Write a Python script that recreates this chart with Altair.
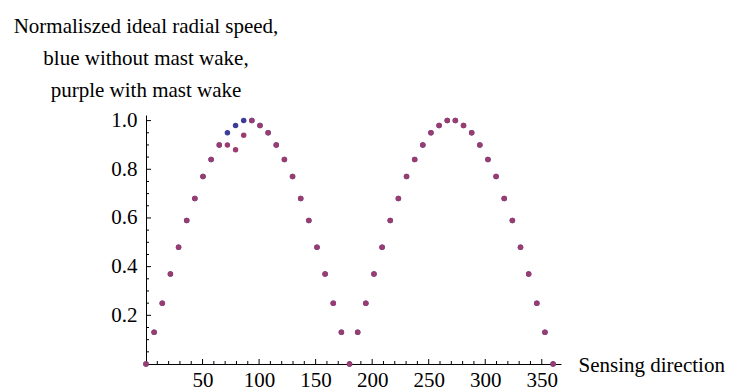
import altair as alt
import pandas as pd

# Sensing direction (degrees)
angles = [0, 7.2, 14.4, 21.6, 28.8, 36, 43.2, 50.4, 57.6, 64.8, 72, 79.2, 86.4, 93.6,
          100.8, 108, 115.2, 122.4, 129.6, 136.8, 144, 151.2, 158.4, 165.6, 172.8, 180,
          187.2, 194.4, 201.6, 208.8, 216, 223.2, 230.4, 237.6, 244.8, 252, 259.2, 266.4,
          273.6, 280.8, 288, 295.2, 302.4, 309.6, 316.8, 324, 331.2, 338.4, 345.6, 352.8, 360]

# Normalised ideal radial speed without mast wake (blue)
speed_no_wake = [0.00, 0.13, 0.25, 0.37, 0.48, 0.59, 0.68, 0.77, 0.84, 0.90, 0.95, 0.98, 1.00, 1.00,
                 0.98, 0.95, 0.90, 0.84, 0.77, 0.68, 0.59, 0.48, 0.37, 0.25, 0.13, 0.00,
                 0.13, 0.25, 0.37, 0.48, 0.59, 0.68, 0.77, 0.84, 0.90, 0.95, 0.98, 1.00,
                 1.00, 0.98, 0.95, 0.90, 0.84, 0.77, 0.68, 0.59, 0.48, 0.37, 0.25, 0.13, 0.00]

# Normalised ideal radial speed with mast wake (purple)
speed_with_wake = [0.00, 0.13, 0.25, 0.37, 0.48, 0.59, 0.68, 0.77, 0.84, 0.90, 0.90, 0.88, 0.94, 1.00,
                   0.98, 0.95, 0.90, 0.84, 0.77, 0.68, 0.59, 0.48, 0.37, 0.25, 0.13, 0.00,
                   0.13, 0.25, 0.37, 0.48, 0.59, 0.68, 0.77, 0.84, 0.90, 0.95, 0.98, 1.00,
                   1.00, 0.98, 0.95, 0.90, 0.84, 0.77, 0.68, 0.59, 0.48, 0.37, 0.25, 0.13, 0.00]

x_labels = [50, 100, 150, 200, 250, 300, 350]
x_minor = [10, 20, 30, 40, 60, 70, 80, 90, 110, 120, 130, 140, 160, 170, 180, 190, 210, 220,
           230, 240, 260, 270, 280, 290, 310, 320, 330, 340, 360]
y_labels = [0.2, 0.4, 0.6, 0.8, 1.0]
y_minor = [0.05, 0.1, 0.15, 0.25, 0.3, 0.35, 0.45, 0.5, 0.55, 0.65, 0.7, 0.75,
           0.85, 0.9, 0.95]

title_lines = ["Normaliszed ideal radial speed,", "blue without mast wake,", "purple with mast wake"]

FONT = "Liberation Serif"
W, H = 415, 249

df = pd.DataFrame({
    "angle": angles * 2,
    "speed": speed_no_wake + speed_with_wake,
    "series": ["blue"] * len(angles) + ["purple"] * len(angles),
})

xs = alt.Scale(domain=[0, 367], nice=False, zero=False)
ys = alt.Scale(domain=[0, 1.023], nice=False, zero=False)

x_axis = alt.Axis(values=x_labels, ticks=False, grid=False, domainColor="black",
                  domainWidth=1, labelFont=FONT, labelFontSize=21, labelColor="black",
                  labelPadding=5, title="Sensing direction", titleFont=FONT,
                  titleFontSize=21, titleFontWeight="normal", titleColor="black",
                  titleAnchor="start", titleAlign="left", titleBaseline="middle",
                  titleX=W + 17, titleY=1, titleAngle=0)
y_axis = alt.Axis(values=y_labels, format=".1f", ticks=False, grid=False,
                  domainColor="black", domainWidth=1, labelFont=FONT, labelFontSize=21,
                  labelColor="black", labelPadding=9, title=None)

points = alt.Chart(df).mark_circle(size=30, opacity=1).encode(
    x=alt.X("angle:Q", scale=xs, axis=x_axis),
    y=alt.Y("speed:Q", scale=ys, axis=y_axis),
    color=alt.Color("series:N", scale=alt.Scale(domain=["blue", "purple"],
                                                range=["#3D3D99", "#993D71"]), legend=None),
    order=alt.Order("series:N"),
)

xmaj = alt.Chart(pd.DataFrame({"t": x_labels})).mark_rule(color="black", strokeWidth=1).encode(
    x=alt.X("t:Q", scale=xs), y=alt.value(H), y2=alt.value(H - 5))
xmin = alt.Chart(pd.DataFrame({"t": x_minor})).mark_rule(color="black", strokeWidth=1).encode(
    x=alt.X("t:Q", scale=xs), y=alt.value(H), y2=alt.value(H - 3))
ymaj = alt.Chart(pd.DataFrame({"t": y_labels})).mark_rule(color="black", strokeWidth=1).encode(
    y=alt.Y("t:Q", scale=ys), x=alt.value(0), x2=alt.value(5))
ymin = alt.Chart(pd.DataFrame({"t": y_minor})).mark_rule(color="black", strokeWidth=1).encode(
    y=alt.Y("t:Q", scale=ys), x=alt.value(0), x2=alt.value(3))

chart = alt.layer(xmin, xmaj, ymin, ymaj, points).properties(
    width=W, height=H,
    background="white",
    autosize=alt.AutoSizeParams(type="none"),
    padding={"left": 146, "top": 115, "right": 168, "bottom": 28},
    title=alt.TitleParams(text=title_lines, anchor="start", align="center",
                          font=FONT, fontSize=21, fontWeight="normal", color="black",
                          lineHeight=32, offset=11, dy=2, frame="group"),
).configure_view(strokeWidth=0, stroke="transparent")

chart.save("out.html", embed_options={"renderer": "svg", "actions": False})
